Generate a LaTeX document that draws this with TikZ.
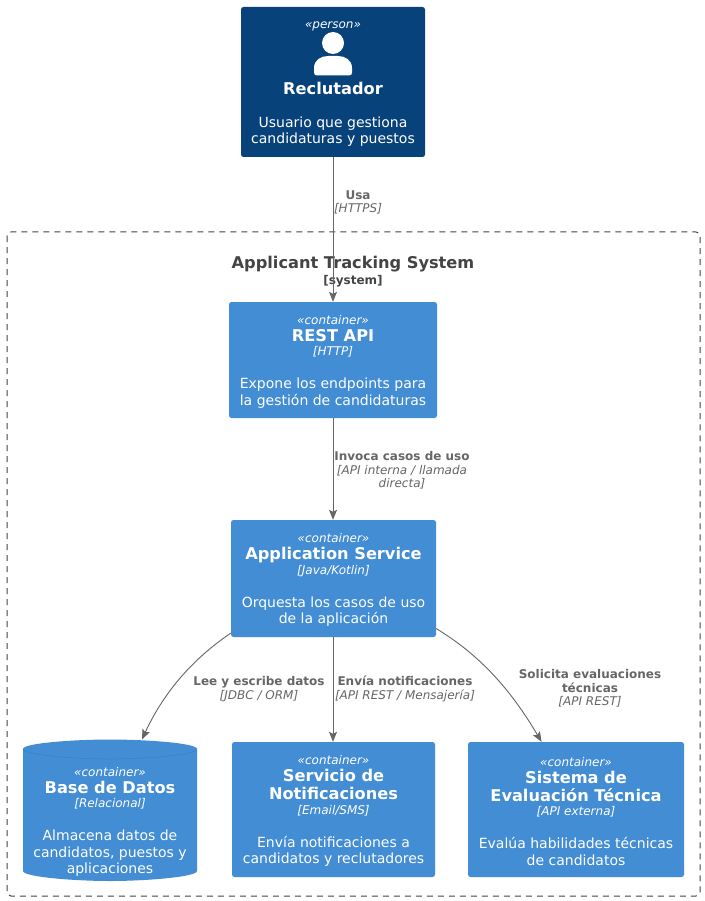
\documentclass[tikz,border=0pt]{standalone}
\usepackage{fontspec}
\setmainfont{DejaVu Sans}
\usetikzlibrary{arrows.meta}
\definecolor{persona}{HTML}{08427B}
\definecolor{contain}{HTML}{438DD5}
\definecolor{edgegray}{HTML}{666666}
\definecolor{boundgray}{HTML}{444444}
\definecolor{dbline}{HTML}{3C7FC0}
\newcommand{\stereo}[1]{{\fontsize{12}{15}\selectfont\itshape\rule{0pt}{12.5pt}#1}}
\newcommand{\ttl}[1]{{\fontsize{16.2}{18}\selectfont\bfseries #1}}
\newcommand{\tech}[1]{{\fontsize{12}{15}\selectfont\itshape #1}}
\newcommand{\dsc}[1]{{\fontsize{14}{16.3}\selectfont #1}}
\newcommand{\rel}[1]{{\fontsize{12}{13}\selectfont\bfseries #1}}
\newcommand{\reltech}[1]{{\fontsize{12}{13}\selectfont\itshape #1}}
\newcommand{\tightlines}{\lineskiplimit=-100pt\relax}
\newcommand{\boxfont}{\fontsize{14}{16.3}\selectfont\tightlines}
\newcommand{\relfont}{\fontsize{12}{13.8}\selectfont\tightlines}
\newcommand{\sysfont}{\fontsize{14}{16}\selectfont\tightlines}
\tikzset{
  x=1pt,y=-1pt,
  box/.style={rectangle,rounded corners=2.5pt,text=white,align=center,inner sep=0pt,font=\boxfont},
  personbox/.style={box,fill=persona},
  containerbox/.style={box,fill=contain},
  dbtext/.style={text=white,align=center,inner sep=0pt,font=\boxfont},
  boundary/.style={draw=boundgray,dash pattern=on 6pt off 5pt,rounded corners=4pt,line width=1pt},
  conn/.style={draw=edgegray,line width=0.9pt,-{Stealth[length=10pt,width=8pt,inset=2pt]}},
  rellabel/.style={text=edgegray,align=center,inner sep=0pt,font=\relfont},
}
\begin{document}
\begin{tikzpicture}
\useasboundingbox (0,0) rectangle (704,901);
\fill[white] (0,0) rectangle (704,901);
% boundary
\draw[boundary] (7,232) rectangle (700,896);
\node[text=boundgray,align=center,inner sep=0pt,font=\sysfont] (systitle) at (353,271.5)
  {{\fontsize{16.2}{18}\selectfont\bfseries Applicant Tracking System}\\{\fontsize{12}{13}\selectfont\bfseries [system]}};
% person
\node[personbox,minimum width=184pt,minimum height=150pt] (person) at (333,82) {};
\node[text=white,inner sep=0pt] (ptag) at (333,24) {\stereo{«person»}};
\fill[white] (333,43) circle (11pt);
\fill[white] (317,75.5) .. controls (315,75.5) and (314,74.5) .. (314,72.5) -- (314,68)
  .. controls (314,60) and (321,56) .. (328,56) -- (338,56)
  .. controls (345,56) and (352,60) .. (352,68) -- (352,72.5)
  .. controls (352,74.5) and (351,75.5) .. (349,75.5) -- cycle;
\node[text=white,align=center,inner sep=0pt,font=\boxfont] (ptext) at (333,114.5)
  {\ttl{Reclutador}\\[16.7pt]\dsc{Usuario que gestiona}\\\dsc{candidaturas y puestos}};
% containers
\node[containerbox,minimum width=208pt,minimum height=116pt] (rest) at (333,360)
  {\stereo{«container»}\\[0.7pt]\ttl{REST API}\\[-1.8pt]\tech{[HTTP]}\\[16.7pt]\dsc{Expone los endpoints para}\\\dsc{la gestión de candidaturas}};
\node[containerbox,minimum width=205pt,minimum height=117pt] (app) at (333.5,578.5)
  {\stereo{«container»}\\[0.7pt]\ttl{Application Service}\\[-1.8pt]\tech{[Java/Kotlin]}\\[16.7pt]\dsc{Orquesta los casos de uso}\\\dsc{de la aplicación}};
\node[containerbox,minimum width=203pt,minimum height=135pt] (notif) at (333.5,809.5)
  {\stereo{«container»}\\[0.7pt]\ttl{Servicio de}\\[1.7pt]\ttl{Notificaciones}\\[-1.8pt]\tech{[Email/SMS]}\\[16.7pt]\dsc{Envía notificaciones a}\\\dsc{candidatos y reclutadores}};
\node[containerbox,minimum width=216pt,minimum height=135pt] (eval) at (576,809.5)
  {\stereo{«container»}\\[0.7pt]\ttl{Sistema de}\\[1.7pt]\ttl{Evaluación Técnica}\\[-1.8pt]\tech{[API externa]}\\[16.7pt]\dsc{Evalúa habilidades técnicas}\\\dsc{de candidatos}};
% database cylinder
\fill[contain] (23,749) .. controls (23,743) and (75,739.5) .. (110,739.5)
  .. controls (145,739.5) and (197,743) .. (197,749)
  -- (197,871) .. controls (197,877) and (145,881) .. (110,881)
  .. controls (75,881) and (23,877) .. (23,871) -- cycle;
\draw[dbline,line width=0.5pt] (23,749) .. controls (23,755) and (75,759) .. (110,759)
  .. controls (145,759) and (197,755) .. (197,749);
\node[dbtext] (db) at (110,820)
  {\stereo{«container»}\\[0.7pt]\ttl{Base de Datos}\\[-1.8pt]\tech{[Relacional]}\\[16.7pt]\dsc{Almacena datos de}\\\dsc{candidatos, puestos y}\\\dsc{aplicaciones}};
\coordinate (dbtop) at (142,739.5);
% connectors
\draw[conn] (person.south) -- (rest.north);
\draw[conn] (rest.south) -- (rest.south |- app.north);
\draw[conn] (rest.south |- app.south) -- (rest.south |- notif.north);
\draw[conn] (app.208) .. controls (188,662) and (161,698) .. (dbtop);
\draw[conn] (app.-26.7) .. controls (480,655) and (511,690) .. (eval.117.4);
% labels
\node[rellabel] (l1) at (358,202.5) {\rel{Usa}\\\reltech{[HTTPS]}};
\node[rellabel,anchor=north] (l2) at (402,451) {\rel{Invoca casos de uso}\\\reltech{[API interna / llamada}\\\reltech{directa]}};
\node[rellabel] (l3) at (259,689) {\rel{Lee y escribe datos}\\\reltech{[JDBC / ORM]}};
\node[rellabel] (l4) at (405,689) {\rel{Envía notificaciones}\\\reltech{[API REST / Mensajería]}};
\node[rellabel,anchor=north] (l5) at (590,669) {\rel{Solicita evaluaciones}\\\rel{técnicas}\\\reltech{[API REST]}};
\end{tikzpicture}
\end{document}
